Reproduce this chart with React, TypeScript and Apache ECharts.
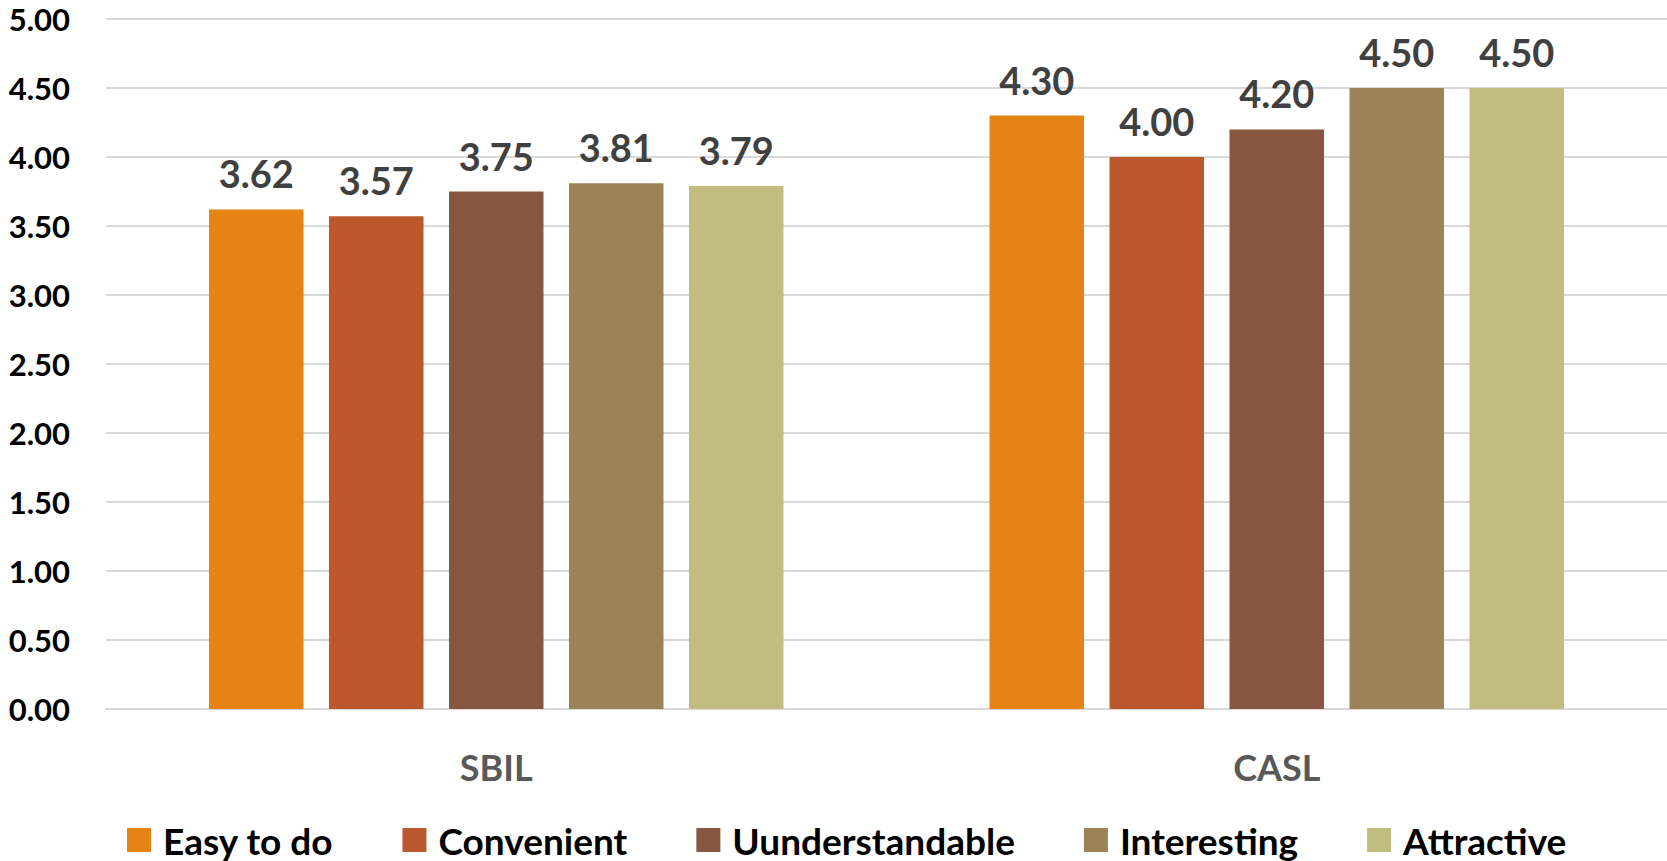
import React, { useEffect, useRef } from "react";
import * as echarts from "echarts";

// Survey groups along the category axis
const categories = ["SBIL", "CASL"];

// Rating dimensions (one bar series each)
const seriesNames = ["Easy to do", "Convenient", "Uunderstandable", "Interesting", "Attractive"];

// Mean scores per dimension, ordered as [SBIL, CASL]
const easyToDo = [3.62, 4.3];
const convenient = [3.57, 4.0];
const understandable = [3.75, 4.2];
const interesting = [3.81, 4.5];
const attractive = [3.79, 4.5];

const seriesValues = [easyToDo, convenient, understandable, interesting, attractive];

const seriesColors = ["#E58314", "#BC582D", "#865641", "#9B8257", "#C2BC80"];

// Value axis range
const yMin = 0;
const yMax = 5;
const yStep = 0.5;

const FONT = "Lato, 'Open Sans', sans-serif";

export default function App() {
  const ref = useRef<HTMLDivElement>(null);

  useEffect(() => {
    if (!ref.current) return;
    const chart = echarts.init(ref.current, undefined, { renderer: "svg" });

    const option = {
      animation: false,
      backgroundColor: "#ffffff",
      textStyle: { fontFamily: FONT },
      grid: { left: 106, right: 0, top: 19, bottom: 152, containLabel: false },
      legend: {
        data: seriesNames,
        left: 127,
        top: 821,
        itemWidth: 24,
        itemHeight: 24,
        itemGap: 69,
        icon: "rect",
        padding: 0,
        textStyle: {
          fontFamily: FONT,
          fontSize: 37,
          lineHeight: 38,
          fontWeight: "bold",
          color: "#000000",
          padding: [0, 0, 0, 7],
        },
      },
      xAxis: {
        type: "category",
        data: categories,
        axisTick: { show: false },
        axisLine: { show: true, lineStyle: { color: "#D9D9D9", width: 2 } },
        axisLabel: {
          margin: 40,
          fontFamily: FONT,
          fontSize: 36,
          fontWeight: "bold",
          color: "#595959",
        },
      },
      yAxis: {
        type: "value",
        min: yMin,
        max: yMax,
        interval: yStep,
        axisLine: { show: false },
        axisTick: { show: false },
        splitLine: { lineStyle: { color: "#D9D9D9", width: 2 } },
        axisLabel: {
          margin: 36,
          fontFamily: FONT,
          fontSize: 31,
          fontWeight: "bold",
          color: "#000000",
          formatter: (v: number) => v.toFixed(2),
        },
      },
      series: seriesNames.map((name, i) => ({
        name,
        type: "bar",
        data: seriesValues[i],
        barGap: "27%",
        barCategoryGap: "26.4%",
        itemStyle: { color: seriesColors[i] },
        label: {
          show: true,
          position: "top",
          distance: 17,
          fontFamily: FONT,
          fontSize: 38,
          lineHeight: 38,
          fontWeight: "bold",
          color: "#404040",
          formatter: (p: any) => Number(p.value).toFixed(2),
        },
      })),
    };

    chart.setOption(option);
    return () => chart.dispose();
  }, []);

  return (
    <div
      ref={ref}
      style={{ position: "absolute", left: 0, top: 0, width: 1667, height: 861 }}
    />
  );
}
